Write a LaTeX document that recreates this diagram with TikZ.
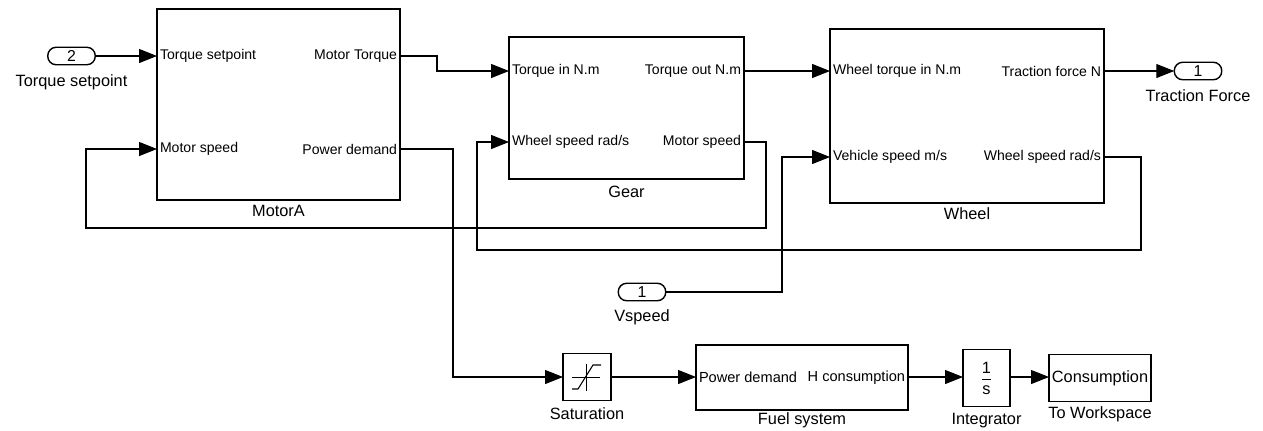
\documentclass[tikz,border=0pt]{standalone}
\usepackage{fontspec}
\setmainfont{Liberation Sans}
\usepackage{amsmath}
\usetikzlibrary{positioning,arrows.meta}

\begin{document}
\begin{tikzpicture}[x=0.02cm,y=-0.02cm,
  block/.style={draw,line width=0.8pt,inner sep=0pt,outer sep=0pt},
  portio/.style={draw,line width=0.8pt,rounded corners=0.17cm,minimum width=0.95cm,
    minimum height=0.35cm,inner sep=0pt,outer sep=0pt,font=\fontsize{9}{10}\selectfont},
  plab/.style={inner sep=1.5pt,font=\fontsize{8}{9}\selectfont},
  bname/.style={inner sep=1pt,font=\fontsize{9.3}{11}\selectfont},
  sig/.style={line width=0.6pt,-{Triangle[length=0.36cm,width=0.28cm]}}]

\useasboundingbox (0,0) rectangle (1263,430);

\node[block,minimum width=4.86cm,minimum height=3.82cm] (motorA) at (278.5,104.5) {};
\node[block,minimum width=4.70cm,minimum height=2.84cm] (gear) at (626.5,108) {};
\node[block,minimum width=5.48cm,minimum height=3.48cm] (wheel) at (967,116) {};
\node[portio] (inTS) at (71.5,56) {2};
\node[portio] (outTF) at (1198,71) {1};
\node[portio] (inVS) at (642,292) {1};
\node[block,minimum width=0.96cm,minimum height=0.94cm] (sat) at (587,377) {};
\node[block,minimum width=4.24cm,minimum height=1.30cm] (fuel) at (802,377.5) {};
\node[block,minimum width=0.94cm,minimum height=1.14cm,font=\fontsize{9.3}{11}\selectfont] (integ) at (986.5,378) {$\dfrac{\text{1}}{\text{s}}$};
\node[block,minimum width=2.04cm,minimum height=0.94cm,font=\fontsize{9.3}{11}\selectfont] (towks) at (1100,378) {Consumption};

\node[plab,right] (mTS) at (motorA.west |- inTS) {Torque setpoint};
\node[plab,right] (mMS) at (motorA.west |- 0,149) {Motor speed};
\node[plab,left] (mMT) at (motorA.east |- inTS) {Motor Torque};
\node[plab,left] (mPD) at (motorA.east |- 0,149) {Power demand};
\node[plab,right] (gTI) at (gear.west |- outTF) {Torque in N.m};
\node[plab,right] (gWS) at (gear.west |- 0,142) {Wheel speed rad/s};
\node[plab,left] (gTO) at (gear.east |- outTF) {Torque out N.m};
\node[plab,left] (gMS) at (gear.east |- 0,142) {Motor speed};
\node[plab,right] (wTI) at (wheel.west |- outTF) {Wheel torque in N.m};
\node[plab,right] (wVS) at (wheel.west |- 0,157) {Vehicle speed m/s};
\node[plab,left] (wTF) at (wheel.east |- outTF) {Traction force N};
\node[plab,left] (wWS) at (wheel.east |- 0,157) {Wheel speed rad/s};
\node[plab,right,font=\fontsize{8.3}{9}\selectfont] (fPD) at (fuel.west) {Power demand};
\node[plab,left,font=\fontsize{8.3}{9}\selectfont] (fHC) at (fuel.east) {H consumption};

\node[bname,below=2pt of motorA] (lMotorA) {MotorA};
\node[bname,below=3pt of gear] (lGear) {Gear};
\node[bname,below=1.5pt of wheel] (lWheel) {Wheel};
\node[bname,below=4.5pt of inTS] (lTS) {Torque setpoint};
\node[bname,below=4.5pt of outTF] (lTF) {Traction Force};
\node[bname,below=4pt of inVS] (lVS) {Vspeed};
\node[bname,below=3pt of sat] (lSat) {Saturation};
\node[bname,below=0.5pt of fuel] (lFuel) {Fuel system};
\node[bname,below=2.5pt of integ] (lInteg) {Integrator};
\node[bname,below=1.5pt of towks] (lTowks) {To Workspace};

\begin{scope}[shift={(sat.center)}]
\draw[line width=0.4pt] (-15,0) -- (13,0) (-1,-13) -- (-1,14);
\draw[line width=0.6pt] (-15,12) -- (-9,12) -- (6,-12) -- (14,-12);
\end{scope}

\coordinate (jMT) at (437,71);
\coordinate (jW1) at (1141,250);
\coordinate (jW2) at (477,142);
\coordinate (jG1) at (766,228);
\coordinate (jG2) at (86,149);
\coordinate (jPD) at (453,0);
\coordinate (jVS) at (782,157);

\draw[sig] (inTS.east) -- (motorA.west |- mTS);
\draw[sig] (motorA.east |- mMT) -| (jMT) -- (gear.west |- gTI);
\draw[sig] (gear.east |- gTO) -- (wheel.west |- wTI);
\draw[sig] (wheel.east |- wTF) -- (outTF.west);
\draw[sig] (wheel.east |- wWS) -| (jW1) -| (jW2) -- (gear.west |- gWS);
\draw[sig] (gear.east |- gMS) -| (jG1) -| (jG2) -- (motorA.west |- mMS);
\draw[sig] (motorA.east |- mPD) -| (jPD |- sat.west) -- (sat.west);
\draw[sig] (inVS.east) -| (jVS) -- (wheel.west |- wVS);
\draw[sig] (sat.east) -- (fuel.west |- sat.east);
\draw[sig] (fuel.east |- sat.east) -- (integ.west |- sat.east);
\draw[sig] (integ.east |- sat.east) -- (towks.west |- sat.east);

\end{tikzpicture}
\end{document}
